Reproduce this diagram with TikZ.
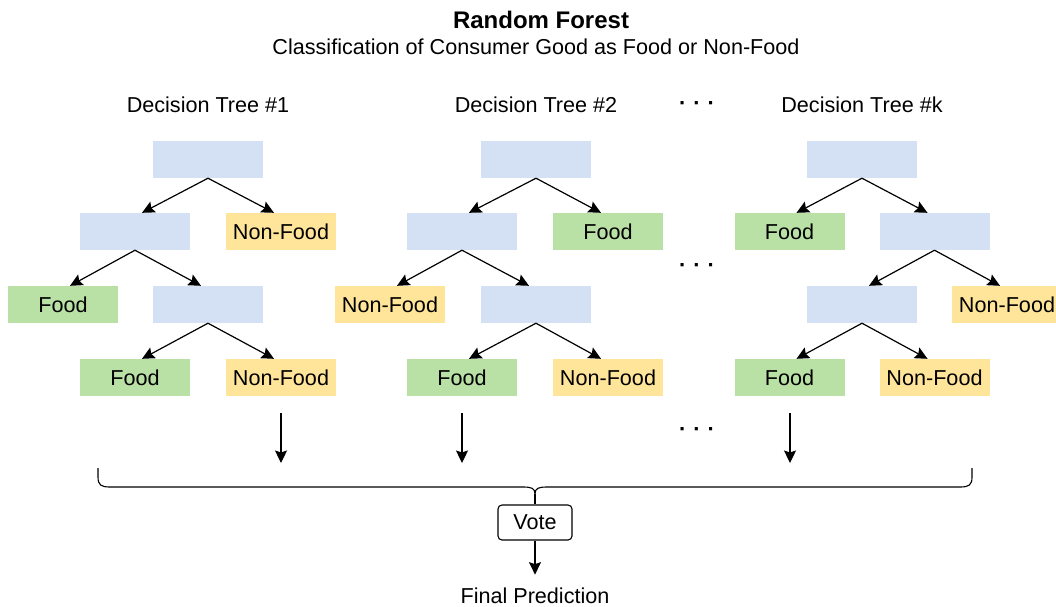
\documentclass[tikz,border=0pt]{standalone}
\usepackage{fontspec}
\setmainfont{Liberation Sans}
\usetikzlibrary{arrows.meta,calc}

\definecolor{splitblue}{HTML}{D4E1F5}
\definecolor{foodgreen}{HTML}{B9E0A5}
\definecolor{nonfoodyellow}{HTML}{FFE599}

\tikzset{
  leafbox/.style={minimum width=110pt, minimum height=37pt, inner sep=0pt,
                  font=\fontsize{21.6}{24}\selectfont},
  split/.style={leafbox, fill=splitblue},
  food/.style={leafbox, fill=foodgreen},
  nonfood/.style={leafbox, fill=nonfoodyellow},
  label/.style={font=\fontsize{21.6}{24}\selectfont, inner sep=0pt},
  branch/.style={line width=1.2pt, -{Stealth[length=12.5pt,width=12pt,inset=2pt]}},
  dots/.style={font=\fontsize{22}{24}\selectfont\bfseries, inner sep=0pt},
}

\begin{document}
\begin{tikzpicture}[x=1pt,y=-1pt]
\useasboundingbox (0,0) rectangle (1056,606);

% titles
\node[font=\fontsize{24}{28}\selectfont\bfseries, inner sep=0pt] (title) at (541,20) {Random Forest};
\node[label] (subtitle) at (536,47) {Classification of Consumer Good as Food or Non-Food};

% tree headers and ellipses
\node[label] (h1) at (208,105) {Decision Tree \#1};
\node[label] (h2) at (536,105) {Decision Tree \#2};
\node[label] (hk) at (862,105) {Decision Tree \#k};
\node[dots] (dots1) at (697,106) {·\hspace{7pt}·\hspace{7pt}·};
\node[dots] (dots2) at (697,268) {·\hspace{7pt}·\hspace{7pt}·};
\node[dots] (dots3) at (697,432) {·\hspace{7pt}·\hspace{7pt}·};

% ---- tree 1
\node[split]   (a0) at (208,159.5) {};
\node[split]   (a1) at (135,231.5) {};
\node[nonfood] (a2) at (281,231.5) {Non-Food};
\node[food]    (a3) at (63,304.5)  {Food};
\node[split]   (a4) at (208,304.5) {};
\node[food]    (a5) at (135,377.5) {Food};
\node[nonfood] (a6) at (281,377.5) {Non-Food};
\draw[branch] (a0.south) -- ([xshift=7pt]a1.north);
\draw[branch] (a0.south) -- ([xshift=-7pt]a2.north);
\draw[branch] (a1.south) -- ([xshift=7pt]a3.north);
\draw[branch] (a1.south) -- ([xshift=-7pt]a4.north);
\draw[branch] (a4.south) -- ([xshift=7pt]a5.north);
\draw[branch] (a4.south) -- ([xshift=-7pt]a6.north);

% ---- tree 2
\node[split]   (b0) at (536,159.5) {};
\node[split]   (b1) at (462,231.5) {};
\node[food]    (b2) at (608,231.5) {Food};
\node[nonfood] (b3) at (390,304.5) {Non-Food};
\node[split]   (b4) at (536,304.5) {};
\node[food]    (b5) at (462,377.5) {Food};
\node[nonfood] (b6) at (608,377.5) {Non-Food};
\draw[branch] (b0.south) -- ([xshift=7pt]b1.north);
\draw[branch] (b0.south) -- ([xshift=-7pt]b2.north);
\draw[branch] (b1.south) -- ([xshift=7pt]b3.north);
\draw[branch] (b1.south) -- ([xshift=-7pt]b4.north);
\draw[branch] (b4.south) -- ([xshift=7pt]b5.north);
\draw[branch] (b4.south) -- ([xshift=-7pt]b6.north);

% ---- tree k
\node[split]   (c0) at (862,159.5)   {};
\node[food]    (c1) at (789.5,231.5) {Food};
\node[split]   (c2) at (934.5,231.5) {};
\node[split]   (c3) at (862,304.5)   {};
\node[nonfood] (c4) at (1007,304.5)  {Non-Food};
\node[food]    (c5) at (789.5,377.5) {Food};
\node[nonfood] (c6) at (934.5,377.5) {Non-Food};
\draw[branch] (c0.south) -- ([xshift=7pt]c1.north);
\draw[branch] (c0.south) -- ([xshift=-7pt]c2.north);
\draw[branch] (c2.south) -- ([xshift=7pt]c3.north);
\draw[branch] (c2.south) -- ([xshift=-7pt]c4.north);
\draw[branch] (c3.south) -- ([xshift=7pt]c5.north);
\draw[branch] (c3.south) -- ([xshift=-7pt]c6.north);

% ---- outputs of the trees
\coordinate (o1s) at (281,413); \coordinate (o1e) at (281,463);
\coordinate (o2s) at (462,413); \coordinate (o2e) at (462,463);
\coordinate (oks) at (790,413); \coordinate (oke) at (790,463);
\draw[branch] (o1s) -- (o1e);
\draw[branch] (o2s) -- (o2e);
\draw[branch] (oks) -- (oke);

% ---- collecting brace
\coordinate (braceTip) at (535,494);
\draw[line width=1.1pt]
  (98,468) -- (98,477)
  .. controls (98,485) and (101,487) .. (110,487)
  -- (523,487)
  .. controls (531,487) and (535,488) .. (braceTip)
  .. controls (535,488) and (539,487) .. (547,487)
  -- (960,487)
  .. controls (969,487) and (972,485) .. (972,477)
  -- (972,468);

% ---- vote and final prediction
\node[draw, line width=1.1pt, rounded corners=4pt, minimum width=74pt, minimum height=35pt,
      inner sep=0pt, font=\fontsize{21.6}{24}\selectfont] (vote) at (535,522.5) {Vote};
\node[label, anchor=base, inner sep=2pt] (final) at (535,603.5) {Final Prediction};
\draw[line width=1.1pt] (braceTip) -- (vote.north);
\draw[branch, shorten >=11pt] (vote.south) -- (final.north);
\end{tikzpicture}
\end{document}
